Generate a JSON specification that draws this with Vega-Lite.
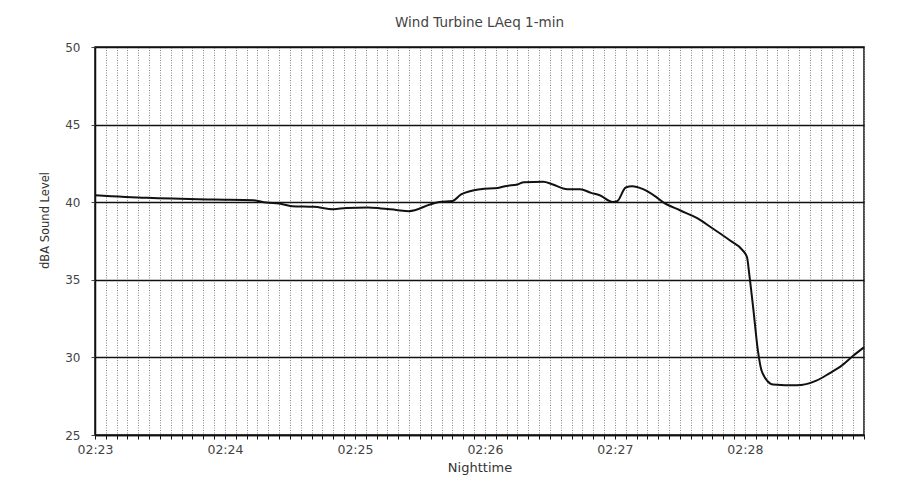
{
  "$schema": "https://vega.github.io/schema/vega-lite/v6.json",
  "autosize": "none",
  "width": 769,
  "height": 388,
  "padding": {"left": 95, "top": 47, "right": 41, "bottom": 59},
  "background": "white",
  "title": {"text": "Wind Turbine LAeq 1-min", "font": "DejaVu Sans", "fontSize": 13.5, "fontWeight": "normal", "color": "#444", "offset": 12},
  "config": {"view": {"stroke": "#111", "strokeWidth": 1.5}},
  "data": {
    "values": [
      {"sec": 0, "dba": 40.45},
      {"sec": 24, "dba": 40.28},
      {"sec": 55, "dba": 40.17},
      {"sec": 73, "dba": 40.13},
      {"sec": 79, "dba": 39.98},
      {"sec": 85, "dba": 39.92},
      {"sec": 91, "dba": 39.74},
      {"sec": 101, "dba": 39.70},
      {"sec": 110, "dba": 39.55},
      {"sec": 116, "dba": 39.63},
      {"sec": 126, "dba": 39.66},
      {"sec": 132, "dba": 39.60},
      {"sec": 139, "dba": 39.50},
      {"sec": 145, "dba": 39.42},
      {"sec": 155, "dba": 39.87},
      {"sec": 159, "dba": 40.02},
      {"sec": 165, "dba": 40.08},
      {"sec": 169, "dba": 40.50},
      {"sec": 178, "dba": 40.84},
      {"sec": 186, "dba": 40.92},
      {"sec": 190, "dba": 41.05},
      {"sec": 195, "dba": 41.14},
      {"sec": 198, "dba": 41.29},
      {"sec": 207, "dba": 41.31},
      {"sec": 211, "dba": 41.16},
      {"sec": 218, "dba": 40.84},
      {"sec": 224, "dba": 40.84},
      {"sec": 229, "dba": 40.60},
      {"sec": 233, "dba": 40.45},
      {"sec": 239, "dba": 40.02},
      {"sec": 241, "dba": 40.06},
      {"sec": 245, "dba": 40.95},
      {"sec": 248, "dba": 41.03},
      {"sec": 253, "dba": 40.84},
      {"sec": 259, "dba": 40.34},
      {"sec": 262, "dba": 40.02},
      {"sec": 270, "dba": 39.48},
      {"sec": 278, "dba": 38.97},
      {"sec": 285, "dba": 38.32},
      {"sec": 293, "dba": 37.55},
      {"sec": 299, "dba": 36.90},
      {"sec": 301, "dba": 36.45},
      {"sec": 302, "dba": 35.40},
      {"sec": 304, "dba": 33.00},
      {"sec": 306, "dba": 30.45},
      {"sec": 308, "dba": 29.03},
      {"sec": 313, "dba": 28.26},
      {"sec": 324, "dba": 28.20},
      {"sec": 333, "dba": 28.50},
      {"sec": 339, "dba": 28.97},
      {"sec": 345, "dba": 29.50},
      {"sec": 350, "dba": 30.10},
      {"sec": 355, "dba": 30.65}
    ]
  },
  "mark": {"type": "line", "color": "#111", "strokeWidth": 2, "interpolate": "monotone"},
  "encoding": {
    "x": {
      "field": "sec",
      "type": "quantitative",
      "scale": {"domain": [0, 355], "nice": false, "zero": false},
      "axis": {
        "title": "Nighttime",
        "titleFont": "DejaVu Sans",
        "titleFontSize": 13,
        "titleFontWeight": "normal",
        "titleColor": "#333",
        "titlePadding": 6,
        "values": [0, 5, 10, 15, 20, 25, 30, 35, 40, 45, 50, 55, 60, 65, 70, 75, 80, 85, 90, 95, 100, 105, 110, 115, 120, 125, 130, 135, 140, 145, 150, 155, 160, 165, 170, 175, 180, 185, 190, 195, 200, 205, 210, 215, 220, 225, 230, 235, 240, 245, 250, 255, 260, 265, 270, 275, 280, 285, 290, 295, 300, 305, 310, 315, 320, 325, 330, 335, 340, 345, 350, 355],
        "labelExpr": "datum.value % 60 === 0 ? '02:' + (23 + datum.value / 60) : ''",
        "labelFont": "DejaVu Sans",
        "labelFontSize": 12.5,
        "labelColor": "#444",
        "labelPadding": 4,
        "labelOverlap": false,
        "labelFlush": false,
        "domainColor": "#111",
        "domainWidth": 1.5,
        "tickColor": "#111",
        "tickSize": 4,
        "grid": true,
        "gridColor": "#888",
        "gridDash": [1, 1.5],
        "gridWidth": 1
      }
    },
    "y": {
      "field": "dba",
      "type": "quantitative",
      "scale": {"domain": [25, 50], "nice": false, "zero": false},
      "axis": {
        "title": "dBA Sound Level",
        "titleFont": "DejaVu Sans",
        "titleFontSize": 11.5,
        "titleFontWeight": "normal",
        "titleColor": "#333",
        "titlePadding": 14,
        "titleY": 173,
        "values": [25, 30, 35, 40, 45, 50],
        "labelFont": "DejaVu Sans",
        "labelFontSize": 12,
        "labelColor": "#444",
        "labelPadding": 11,
        "domainColor": "#111",
        "domainWidth": 1.5,
        "tickColor": "#444",
        "tickSize": 4,
        "grid": true,
        "gridColor": "#111",
        "gridWidth": 1.3
      }
    }
  }
}
